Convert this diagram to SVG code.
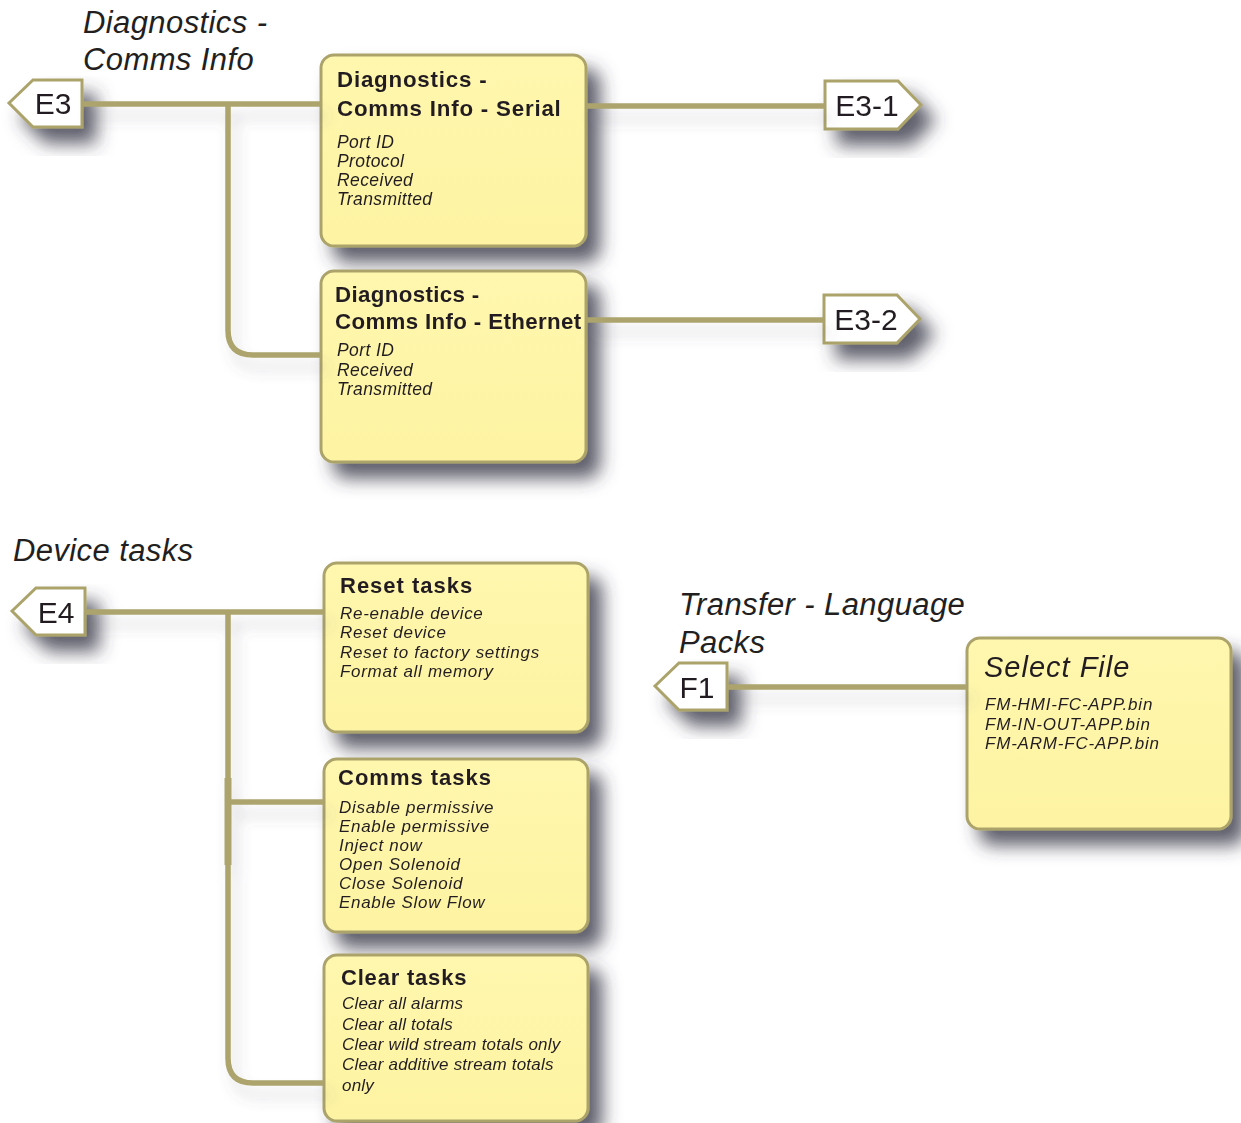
<svg xmlns="http://www.w3.org/2000/svg" width="1241" height="1123" viewBox="0 0 1241 1123">
<defs>
<filter id="sh" x="-40%" y="-40%" width="200%" height="200%">
<feGaussianBlur in="SourceAlpha" stdDeviation="9"/>
<feOffset dx="13" dy="15" result="b"/>
<feFlood flood-color="#383848" flood-opacity="0.8"/>
<feComposite in2="b" operator="in"/>
<feMerge><feMergeNode/><feMergeNode in="SourceGraphic"/></feMerge>
</filter>
<filter id="lsh" x="-20%" y="-50%" width="150%" height="300%">
<feGaussianBlur in="SourceAlpha" stdDeviation="7"/>
<feOffset dx="6" dy="12" result="b"/>
<feFlood flood-color="#5a5a66" flood-opacity="0.22"/>
<feComposite in2="b" operator="in"/>
<feMerge><feMergeNode/><feMergeNode in="SourceGraphic"/></feMerge>
</filter>
<linearGradient id="yf" x1="0" y1="0" x2="0" y2="1">
<stop offset="0" stop-color="#fff7ae"/>
<stop offset="1" stop-color="#fdf3a2"/>
</linearGradient>
</defs>
<style>
.box{fill:url(#yf);stroke:#aba36b;stroke-width:3}
.tag{fill:#ffffff;stroke:#aba36b;stroke-width:3}
.ln{fill:none;stroke:#aca46c;stroke-width:5.5}
text{font-family:"Liberation Sans",Arial,sans-serif;fill:#231f20}
.hd{font-weight:bold;font-size:22.3px;letter-spacing:0.35px}
.th{font-weight:bold;font-size:22px;letter-spacing:1px}
.it{font-style:italic;font-size:17.5px;letter-spacing:0.4px}
.ti{font-style:italic;font-size:17px;letter-spacing:0.7px}
.tc{font-style:italic;font-size:17px;letter-spacing:0.2px}
.tg{font-size:30px;text-anchor:middle}
.sec{font-style:italic;font-size:31px;letter-spacing:0.4px}
</style>
<rect width="1241" height="1123" fill="#ffffff"/>

<g id="titles">
<text class="sec" x="83" y="33">Diagnostics -</text>
<text class="sec" x="83" y="70">Comms Info</text>
<text class="sec" x="13" y="561">Device tasks</text>
<text class="sec" x="679" y="615">Transfer - Language</text>
<text class="sec" x="679" y="653">Packs</text>
</g>

<g id="E3" filter="url(#sh)">
<polygon class="tag" points="9,103 33,80 82,80 82,127 33,127"/>
<text class="tg" x="53" y="114">E3</text>
</g>
<g id="E3-1" filter="url(#sh)">
<polygon class="tag" points="825,81 898,81 921,105 898,129 825,129"/>
<text class="tg" x="867" y="116">E3-1</text>
</g>
<g id="E3-2" filter="url(#sh)">
<polygon class="tag" points="824,295 897,295 920,319 897,343 824,343"/>
<text class="tg" x="866" y="330">E3-2</text>
</g>
<g id="E4" filter="url(#sh)">
<polygon class="tag" points="12,611 36,588 85,588 85,635 36,635"/>
<text class="tg" x="56" y="623">E4</text>
</g>
<g id="F1" filter="url(#sh)">
<polygon class="tag" points="655,686 679,663 727,663 727,710 679,710"/>
<text class="tg" x="697" y="698">F1</text>
</g>

<g id="serial" filter="url(#sh)">
<rect class="box" x="321" y="55" width="265" height="191" rx="13"/>
<text class="hd" x="337" y="87" style="letter-spacing:0.8px">Diagnostics -</text>
<text class="hd" x="337" y="116" style="letter-spacing:0.8px">Comms Info - Serial</text>
<text class="it" x="337" y="148">Port ID</text>
<text class="it" x="337" y="167">Protocol</text>
<text class="it" x="337" y="186">Received</text>
<text class="it" x="337" y="205">Transmitted</text>
</g>
<g id="ethernet" filter="url(#sh)">
<rect class="box" x="321" y="271" width="265" height="191" rx="13"/>
<text class="hd" x="335" y="302">Diagnostics -</text>
<text class="hd" x="335" y="329">Comms Info - Ethernet</text>
<text class="it" x="337" y="356">Port ID</text>
<text class="it" x="337" y="376">Received</text>
<text class="it" x="337" y="395">Transmitted</text>
</g>
<g id="reset" filter="url(#sh)">
<rect class="box" x="324" y="563" width="264" height="169" rx="13"/>
<text class="th" x="340" y="593">Reset tasks</text>
<text class="ti" x="340" y="619">Re-enable device</text>
<text class="ti" x="340" y="638">Reset device</text>
<text class="ti" x="340" y="658">Reset to factory settings</text>
<text class="ti" x="340" y="677">Format all memory</text>
</g>
<g id="comms" filter="url(#sh)">
<rect class="box" x="324" y="759" width="264" height="173" rx="13"/>
<text class="th" x="338" y="785">Comms tasks</text>
<text class="ti" x="339" y="813">Disable permissive</text>
<text class="ti" x="339" y="832">Enable permissive</text>
<text class="ti" x="339" y="851">Inject now</text>
<text class="ti" x="339" y="870">Open Solenoid</text>
<text class="ti" x="339" y="889">Close Solenoid</text>
<text class="ti" x="339" y="908">Enable Slow Flow</text>
</g>
<g id="clear" filter="url(#sh)">
<rect class="box" x="324" y="955" width="264" height="166" rx="13"/>
<text class="th" x="341" y="985" style="letter-spacing:0.8px">Clear tasks</text>
<text class="tc" x="342" y="1009">Clear all alarms</text>
<text class="tc" x="342" y="1030">Clear all totals</text>
<text class="tc" x="342" y="1050">Clear wild stream totals only</text>
<text class="tc" x="342" y="1070">Clear additive stream totals</text>
<text class="tc" x="342" y="1091">only</text>
</g>
<g id="selectfile" filter="url(#sh)">
<rect class="box" x="967" y="638" width="264" height="191" rx="13"/>
<text x="984" y="677" style="font-style:italic;font-size:29px;letter-spacing:1px">Select File</text>
<text class="ti" x="985" y="710" style="letter-spacing:0.8px">FM-HMI-FC-APP.bin</text>
<text class="ti" x="985" y="730" style="letter-spacing:0.8px">FM-IN-OUT-APP.bin</text>
<text class="ti" x="985" y="749" style="letter-spacing:0.8px">FM-ARM-FC-APP.bin</text>
</g>

<g id="connectors" filter="url(#lsh)">
<path class="ln" d="M83,104 H321"/>
<path class="ln" d="M228,104 V330 Q228,355 253,355 H321"/>
<path class="ln" d="M587,106 H825"/>
<path class="ln" d="M587,320 H824"/>
<path class="ln" d="M86,612 H324"/>
<path class="ln" d="M228,612 V1058 Q228,1083 253,1083 H324"/>
<path class="ln" d="M228,802 H324"/>
<path class="ln" d="M228,778 V865" style="stroke-width:7"/>
<path class="ln" d="M728,687 H967"/>
</g>
</svg>
